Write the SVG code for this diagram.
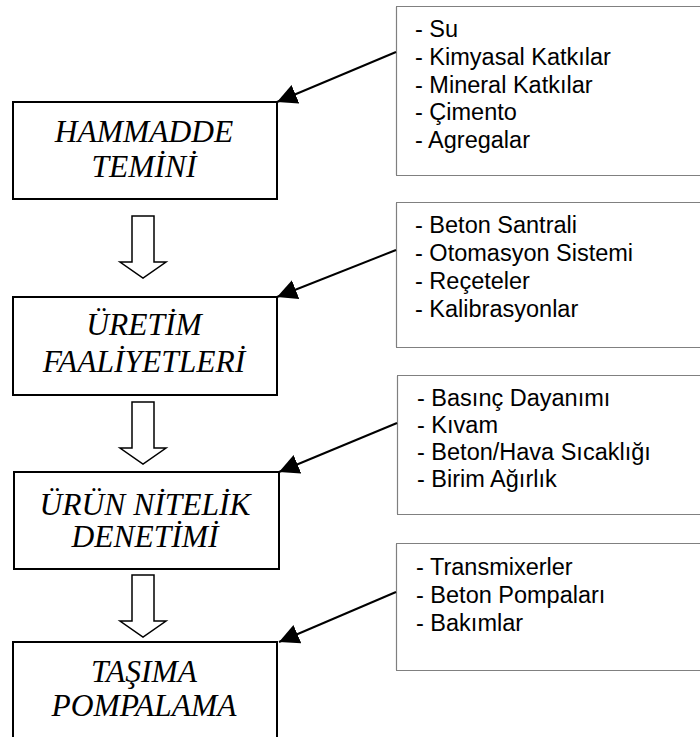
<svg xmlns="http://www.w3.org/2000/svg" width="700" height="737" viewBox="0 0 700 737">
<style>
.main{fill:#fff;stroke:#000;stroke-width:2}
.note{fill:#fff;stroke:#000;stroke-width:1.2;stroke-dasharray:1 1}
.mt{font-family:"Liberation Serif","Times New Roman",serif;font-style:italic;font-size:31.5px;fill:#000;text-anchor:middle}
.nt{font-family:"Liberation Sans",Arial,sans-serif;font-size:23.5px;fill:#000}
.blk{fill:#fff;stroke:#000;stroke-width:1.5;stroke-linejoin:miter}
.con{stroke:#000;stroke-width:2;fill:none;marker-end:url(#ah)}
</style>
<defs>
<marker id="ah" markerUnits="userSpaceOnUse" markerWidth="22" markerHeight="22" refX="20" refY="10" orient="auto">
<path d="M0,0 L20,10 L0,20 Z" fill="#000"/>
</marker>
<path id="down" d="M-11,0 H11 V46 H23 L0,62 L-23,46 H-11 Z"/>
</defs>

<g id="note1">
<rect class="note" x="396.5" y="6.5" width="320" height="169"/>
<text class="nt" x="415" y="37">- Su</text>
<text class="nt" x="415" y="65">- Kimyasal Katkılar</text>
<text class="nt" x="415" y="93">- Mineral Katkılar</text>
<text class="nt" x="415" y="120">- Çimento</text>
<text class="nt" x="415" y="148">- Agregalar</text>
</g>
<g id="note2">
<rect class="note" x="396.5" y="202.5" width="320" height="145"/>
<text class="nt" x="415" y="233">- Beton Santrali</text>
<text class="nt" x="415" y="261">- Otomasyon Sistemi</text>
<text class="nt" x="415" y="289">- Reçeteler</text>
<text class="nt" x="415" y="317">- Kalibrasyonlar</text>
</g>
<g id="note3">
<rect class="note" x="397.5" y="375.5" width="320" height="139"/>
<text class="nt" x="417" y="406">- Basınç Dayanımı</text>
<text class="nt" x="417" y="433">- Kıvam</text>
<text class="nt" x="417" y="460">- Beton/Hava Sıcaklığı</text>
<text class="nt" x="417" y="487">- Birim Ağırlık</text>
</g>
<g id="note4">
<rect class="note" x="396.5" y="543.5" width="320" height="127"/>
<text class="nt" x="416" y="575">- Transmixerler</text>
<text class="nt" x="416" y="603">- Beton Pompaları</text>
<text class="nt" x="416" y="631">- Bakımlar</text>
</g>

<g id="box1">
<rect class="main" x="13" y="102" width="264" height="97"/>
<text class="mt" x="144" y="142">HAMMADDE</text>
<text class="mt" x="144" y="177">TEMİNİ</text>
</g>
<g id="box2">
<rect class="main" x="13" y="297" width="264" height="98"/>
<text class="mt" x="144" y="335">ÜRETİM</text>
<text class="mt" x="144" y="372">FAALİYETLERİ</text>
</g>
<g id="box3">
<rect class="main" x="14" y="472" width="265" height="97"/>
<text class="mt" x="145" y="515">ÜRÜN NİTELİK</text>
<text class="mt" x="145" y="547">DENETİMİ</text>
</g>
<g id="box4">
<rect class="main" x="13" y="642" width="264" height="110"/>
<text class="mt" x="144" y="682">TAŞIMA</text>
<text class="mt" x="144" y="716">POMPALAMA</text>
</g>

<g id="connectors">
<use href="#down" class="blk" transform="translate(143,216)"/>
<use href="#down" class="blk" transform="translate(143,402)"/>
<use href="#down" class="blk" transform="translate(143,575)"/>
<line class="con" x1="396" y1="52" x2="277" y2="102"/>
<line class="con" x1="396" y1="250" x2="277" y2="297"/>
<line class="con" x1="397" y1="423" x2="279" y2="472"/>
<line class="con" x1="396" y1="592" x2="279" y2="642"/>
</g>
</svg>
